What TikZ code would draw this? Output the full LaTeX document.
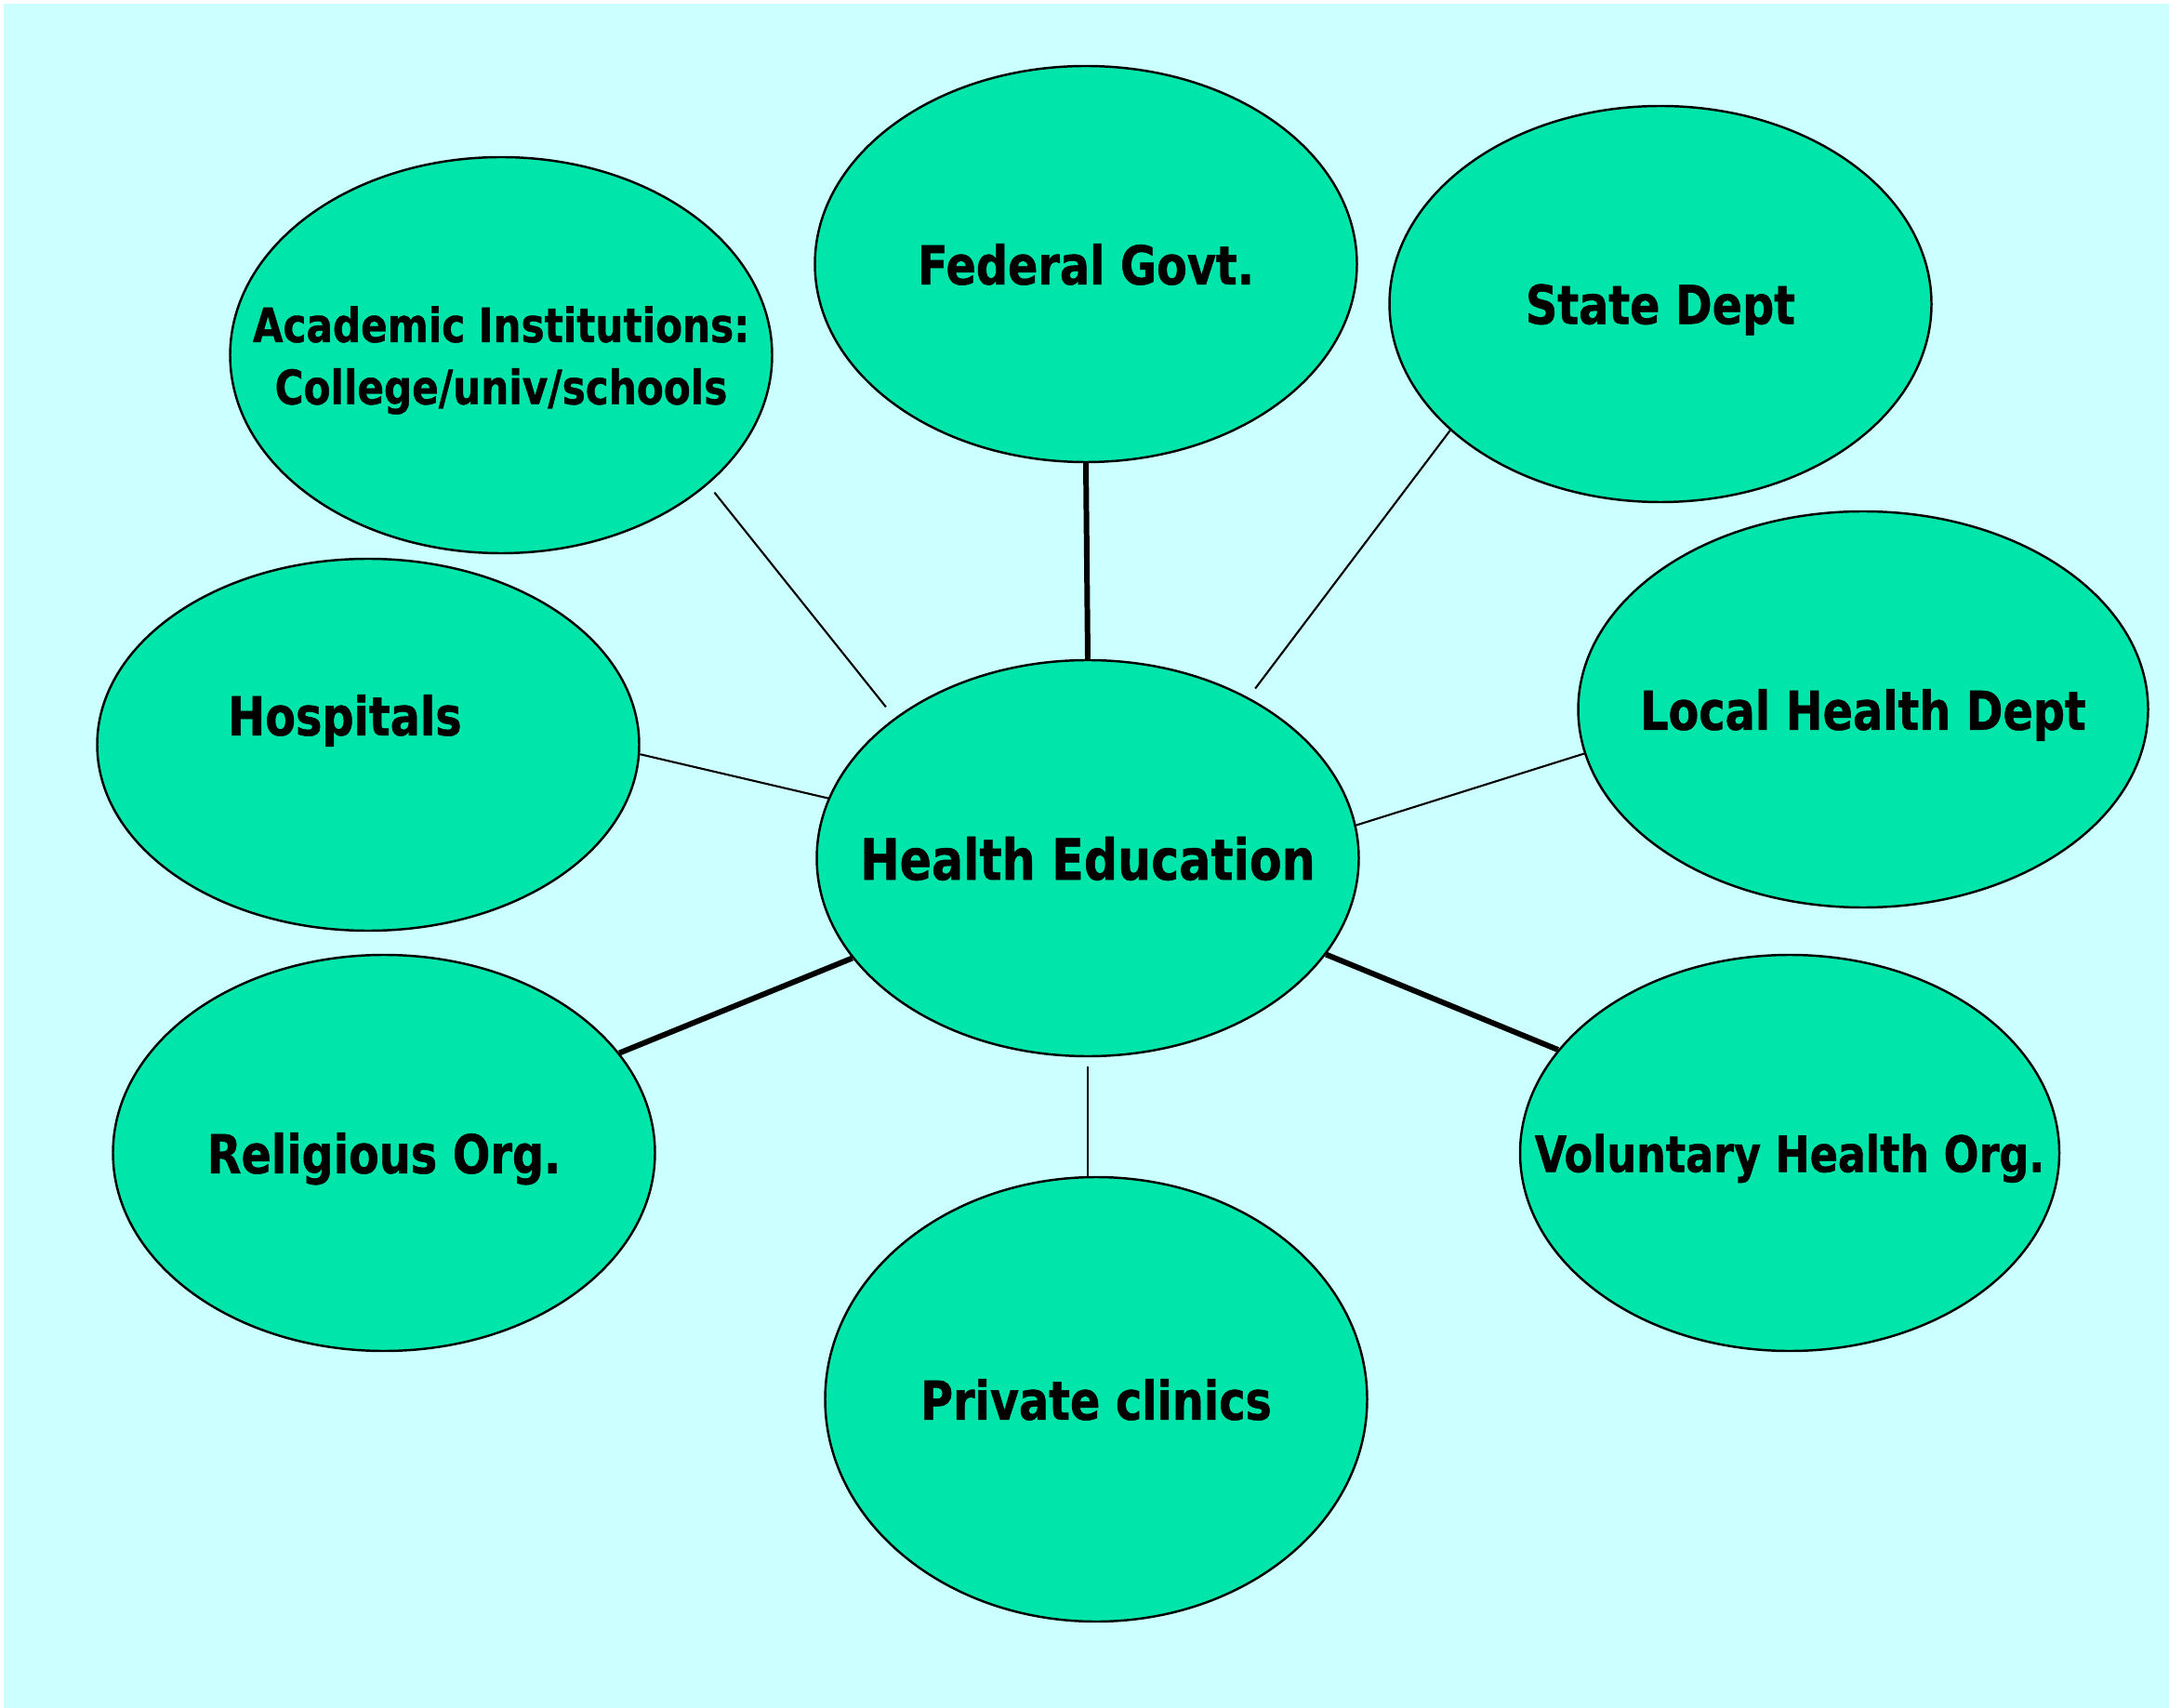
\documentclass[tikz,border=0pt]{standalone}
\usepackage{fontspec}
\setmainfont{DejaVu Sans Condensed}[FakeStretch=0.92, BoldFeatures={FakeBold=0.8}]
\usetikzlibrary{shapes.geometric}
\definecolor{skycyan}{RGB}{204,255,255}
\definecolor{bubblegreen}{RGB}{0,230,170}

\begin{document}
\begin{tikzpicture}[font=\bfseries\fontsize{16.4}{19}\selectfont, every node/.append style={text depth=0pt},
	bubble/.style={ellipse, draw, fill=bubblegreen, line width=0.7pt, inner sep=0pt,
		minimum width=5.83cm, minimum height=4.26cm},
	link/.style={line width=0.6pt},
	strong/.style={line width=1.7pt}]
	\useasboundingbox (0,0) rectangle (23.33,-18.37);
	\fill[skycyan] (0.04,-0.04) rectangle (23.33,-18.37);
	\node[bubble] (he) at (11.70,-9.23) {};
	\node[bubble] (fed) at (11.68,-2.84) {};
	\node[bubble] (state) at (17.86,-3.27) {};
	\node[bubble] (acad) at (5.39,-3.82) {};
	\node[bubble, minimum height=4cm] (hosp) at (3.96,-8.01) {};
	\node[bubble, minimum width=6.13cm] (local) at (20.04,-7.63) {};
	\node[bubble] (relig) at (4.13,-12.40) {};
	\node[bubble, minimum width=5.8cm] (volun) at (19.25,-12.40) {};
	\node[bubble, minimum height=4.78cm] (priv) at (11.79,-15.05) {};
	\node[font=\bfseries\fontsize{17.4}{19}\selectfont] (he-text) at (he) {Health Education};
	\node (fed-text) at (fed) {Federal Govt.};
	\node (state-text) at (state) {State Dept};
	\node[align=center, font=\bfseries\fontsize{14.5}{19}\selectfont] (acad-text) at (acad) {Academic Institutions:\\College/univ/schools};
	\node (hosp-text) at ([shift={(-0.25,0.32)}]hosp.center) {Hospitals};
	\node (local-text) at (local) {Local Health Dept};
	\node (relig-text) at (relig) {Religious Org.};
	\node[font=\bfseries\fontsize{15.3}{19}\selectfont] (volun-text) at (volun) {Voluntary Health Org.};
	\node (priv-text) at (priv) {Private clinics};
	\draw[strong] (fed.south) -- (he.north);
	\draw[link, shorten <=0.11cm, shorten >=0.15cm] (acad.-32.4) -- (he.144.75);
	\draw[link, shorten >=0.12cm] (state.211) -- (he.45);
	\draw[link] (hosp.-2.3) -- (he.167.7);
	\draw[link] (local.189.8) -- (he.7.76);
	\draw[strong] (relig.23.07) -- (he.-157.7);
	\draw[strong] (volun.156.7) -- (he.-22.8);
	\draw[link, shorten <=0.1cm] (he.south) -- (he.south |- priv.north);
\end{tikzpicture}
\end{document}
